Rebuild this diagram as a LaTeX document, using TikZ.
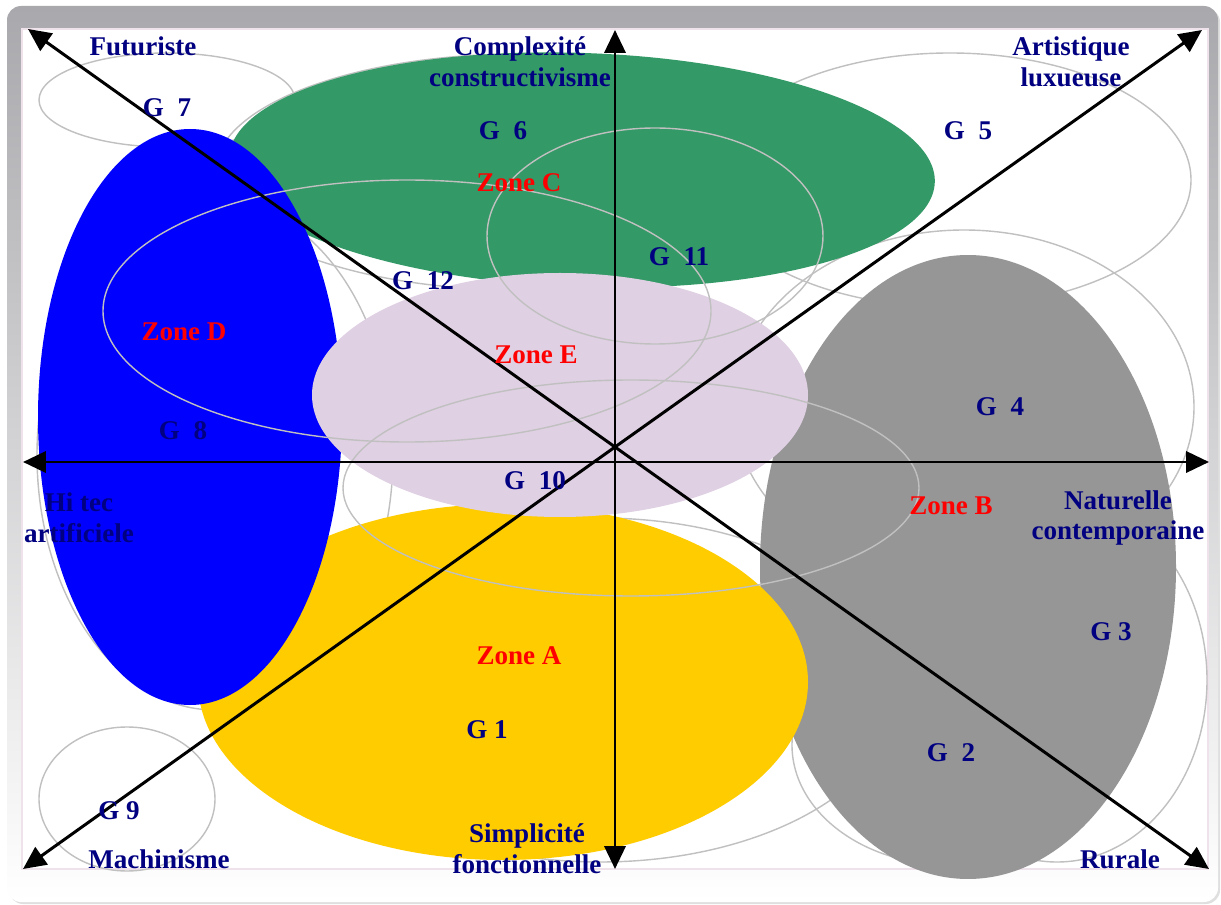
\documentclass[tikz,border=0pt]{standalone}
\usepackage{fontspec}
\setmainfont{Liberation Serif}
\usetikzlibrary{arrows.meta}
\definecolor{frameGrey}{HTML}{A9A9AD}
\definecolor{frameLine}{HTML}{F0E2EA}
\definecolor{zoneGreen}{HTML}{339966}
\definecolor{zoneBlue}{HTML}{0000FF}
\definecolor{zoneLilac}{HTML}{E0D0E3}
\definecolor{zoneYellow}{HTML}{FFCC00}
\definecolor{zoneGrey}{HTML}{969696}
\definecolor{ringGrey}{HTML}{C0C0C0}
\definecolor{labelNavy}{HTML}{000080}

\begin{document}
\begin{tikzpicture}[x=0.02cm, y=-0.02cm,
    ring/.style={draw=ringGrey, line width=0.8pt},
    pole/.style={font=\fontsize{15.4}{17.5}\selectfont\bfseries, text=labelNavy, align=center, inner sep=0pt},
    grp/.style={font=\fontsize{15.4}{17.5}\selectfont\bfseries, text=labelNavy, inner sep=0pt},
    zone/.style={font=\fontsize{15.4}{17.5}\selectfont\bfseries, text=red, inner sep=0pt},
    axis/.style={line width=1.7pt, -{Triangle[length=13pt, width=12pt]}},
]
\useasboundingbox (0,0) rectangle (1221,905);
\fill[gray!25, rounded corners=8pt] (9,8) rectangle (1220,904);
\shade[top color=frameGrey, bottom color=white, rounded corners=8pt] (7,6) rectangle (1218,902);
\fill[white] (22,29) rectangle (1208,869);
\draw[frameLine, line width=0.6pt] (22,29) rectangle (1208,869);

\draw[ring] (167,100) ellipse (128 and 47);
\draw[ring] (520,172) ellipse (305 and 118);
\draw[ring] (215,455) ellipse (178 and 255);
\draw[ring] (950,180) ellipse (241 and 127);
\draw[ring] (964,407) ellipse (230 and 177);
\draw[ring] (1057,680) ellipse (150 and 182);
\draw[ring] (950,745) ellipse (158 and 120);
\draw[ring] (600,690) ellipse (300 and 172);

\fill[zoneGreen, rotate around={-2:(582,170)}] (582,170) ellipse (353 and 117);
\fill[zoneGrey] (968,567) ellipse (208 and 312);
\fill[zoneYellow] (503,682) ellipse (305 and 178);
\fill[zoneBlue] (190,417) ellipse (152 and 288);
\fill[zoneLilac] (560,395) ellipse (248 and 122);

\draw[ring] (407,311) ellipse (304 and 131);
\draw[ring] (655,236) ellipse (168 and 108);
\draw[ring] (631,488) ellipse (288 and 108);
\draw[ring] (127,799) ellipse (88 and 72);

\coordinate (O) at (615,447);
\coordinate (top) at (615,30);
\coordinate (bottom) at (615,869);
\coordinate (west) at (23,462);
\coordinate (east) at (1209,462);
\coordinate (hmid) at (615,462);
\coordinate (nw) at (28,29);
\coordinate (ne) at (1202,30);
\coordinate (sw) at (23,869);
\coordinate (se) at (1209,869);
\draw[axis] (O) -- (top);
\draw[axis] (O) -- (bottom);
\draw[axis] (hmid) -- (west);
\draw[axis] (hmid) -- (east);
\draw[axis] (O) -- (nw);
\draw[axis] (O) -- (ne);
\draw[axis] (O) -- (sw);
\draw[axis] (O) -- (se);

\node[pole] (futur) at (143,46) {Futuriste};
\node[pole] (complex) at (520,62) {Complexité\\constructivisme};
\node[pole] (artist) at (1071,62) {Artistique\\luxueuse};
\node[pole] (hitec) at (79,518) {Hi tec\\artificiele};
\node[pole] (nature) at (1118,518) {Naturelle\\contemporaine};
\node[pole] (machin) at (159,859) {Machinisme};
\node[pole] (simple) at (527,849) {Simplicité\\fonctionnelle};
\node[pole] (rural) at (1120,859) {Rurale};

\node[grp] (g7) at (167,108) {G\ \ 7};
\node[grp] (g6) at (503,131) {G\ \ 6};
\node[grp] (g5) at (968,131) {G\ \ 5};
\node[grp] (g11) at (679,257) {G\ \ 11};
\node[grp] (g12) at (423,281) {G\ \ 12};
\node[grp] (g4) at (1000,407) {G\ \ 4};
\node[grp] (g8) at (183,431) {G\ \ 8};
\node[grp] (g10) at (535,481) {G\ \ 10};
\node[grp] (g3) at (1111,632) {G 3};
\node[grp] (g1) at (487,730) {G 1};
\node[grp] (g2) at (951,753) {G\ \ 2};
\node[grp] (g9) at (119,811) {G 9};

\node[zone] (zc) at (519,183) {Zone C};
\node[zone] (zd) at (184,332) {Zone D};
\node[zone] (ze) at (536,355) {Zone E};
\node[zone] (zb) at (951,506) {Zone B};
\node[zone] (za) at (519,656) {Zone A};
\end{tikzpicture}
\end{document}
